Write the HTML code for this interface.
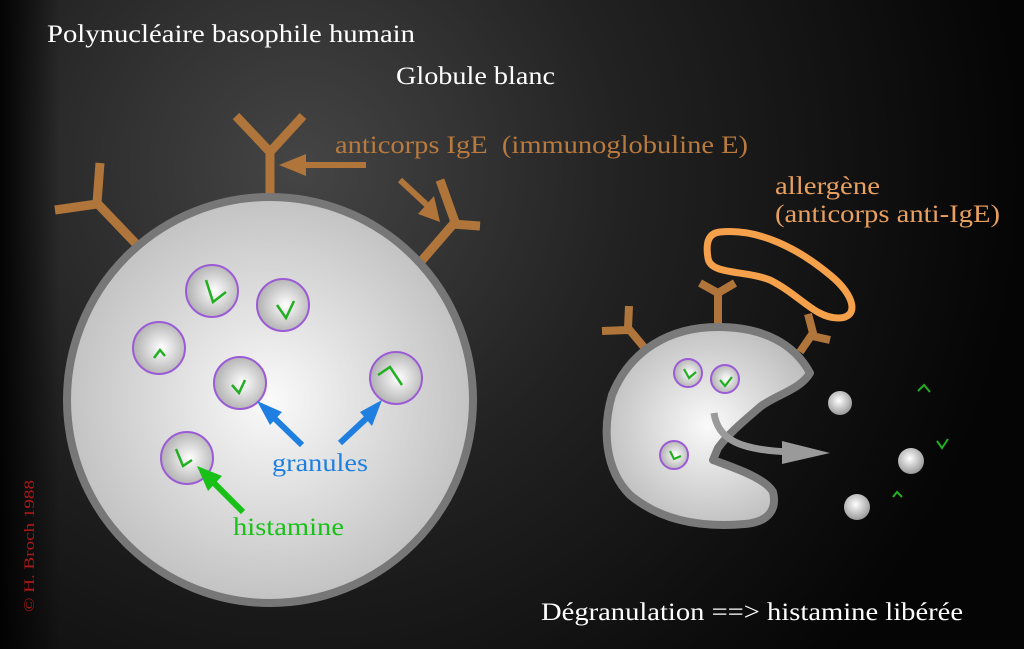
<!DOCTYPE html>
<html><head><meta charset="utf-8"><style>
html,body{margin:0;padding:0;background:#000;}
svg{display:block}
text{font-family:"Liberation Serif",serif;}
</style></head><body>
<svg width="1024" height="649" viewBox="0 0 1024 649" xmlns="http://www.w3.org/2000/svg">
<defs>
<radialGradient id="bg" cx="300" cy="170" r="720" gradientUnits="userSpaceOnUse">
<stop offset="0" stop-color="#454545"/><stop offset="0.45" stop-color="#222"/><stop offset="1" stop-color="#050505"/>
</radialGradient>
<linearGradient id="lf" x1="0" x2="1" y1="0" y2="0"><stop offset="0" stop-color="#000" stop-opacity="0.9"/><stop offset="1" stop-color="#000" stop-opacity="0"/></linearGradient>
<radialGradient id="cell" cx="0.5" cy="0.5" r="0.55"><stop offset="0" stop-color="#fafafa"/><stop offset="1" stop-color="#bdbdbd"/></radialGradient>
<radialGradient id="gr" cx="0.55" cy="0.5" r="0.6"><stop offset="0" stop-color="#ffffff"/><stop offset="1" stop-color="#a8a8a8"/></radialGradient>
<radialGradient id="ball" cx="0.45" cy="0.4" r="0.6"><stop offset="0" stop-color="#fff"/><stop offset="1" stop-color="#999"/></radialGradient>
</defs>
<rect width="1024" height="649" fill="url(#bg)"/>
<rect width="60" height="649" fill="url(#lf)"/>

<g stroke="#b0753a" stroke-width="9" fill="none" stroke-linecap="butt">
<path d="M270,200 V150 M270,152 L236,116 M270,152 L303,116"/>
<path d="M140,248 L97,203 L100,163 M97,204 L55,210"/>
<path d="M418,265 L455,222 L440,180 M452,224 L480,226"/>
</g>
<line x1="366" y1="165" x2="300" y2="165" stroke="#b0753a" stroke-width="6"/>
<polygon points="279,165 306,154 306,176" fill="#b0753a"/>
<line x1="400" y1="180" x2="428" y2="206" stroke="#b0753a" stroke-width="6"/>
<polygon points="440,222 418,214 434,196" fill="#b0753a"/>

<circle cx="270" cy="400" r="203" fill="url(#cell)" stroke="#777" stroke-width="8"/>
<g stroke="#9b5bd6" stroke-width="2" fill="url(#gr)">
<circle cx="212" cy="291" r="26"/><circle cx="283" cy="305" r="26"/><circle cx="159" cy="348" r="26"/>
<circle cx="240" cy="383" r="26"/><circle cx="396" cy="378" r="26"/><circle cx="187" cy="458" r="26"/>
</g>
<g stroke="#22b022" stroke-width="2.5" fill="none">
<path d="M206,280 L213,302 L226,292"/><path d="M277,305 L286,318 L294,301"/><path d="M154,358 L160,350 L165,356"/>
<path d="M232,385 L239,393 L245,380"/><path d="M378,375 L390,367 L402,385"/><path d="M176,449 L183,466 L192,460"/>
</g>
<line x1="302" y1="445" x2="270" y2="414" stroke="#1f7fe0" stroke-width="6"/>
<polygon points="257,401 282,412 270,425" fill="#1f7fe0"/>
<line x1="340" y1="443" x2="370" y2="415" stroke="#1f7fe0" stroke-width="6"/>
<polygon points="382,400 360,412 372,426" fill="#1f7fe0"/>
<line x1="243" y1="512" x2="212" y2="481" stroke="#18c018" stroke-width="6"/>
<polygon points="197,466 222,476 208,491" fill="#18c018"/>

<g stroke="#b0753a" stroke-width="8" fill="none">
<path d="M648,352 L628,328 L629,306 M628,330 L602,331"/>
<path d="M718,330 V290 M718,293 L700,283 M718,293 L735,283"/>
<path d="M800,352 L813,333 L808,314 M812,336 L830,340"/>
</g>
<path d="M718,327 C765,327 795,345 810,373 C800,390 775,395 760,407 C745,420 730,432 718,448 L713,460 C735,468 765,478 773,492 C777,508 770,522 745,524 C700,528 660,520 630,495 C605,470 602,430 612,395 C630,350 670,327 718,327Z" fill="url(#cell)" stroke="#7a7a7a" stroke-width="8" stroke-linejoin="round"/>
<g stroke="#9b5bd6" stroke-width="2" fill="url(#gr)">
<circle cx="688" cy="373" r="14"/><circle cx="725" cy="379" r="14"/><circle cx="674" cy="455" r="14"/>
</g>
<g stroke="#22b022" stroke-width="2.2" fill="none">
<path d="M684,369 L689,378 L696,372"/><path d="M720,380 L725,386 L732,377"/><path d="M670,451 L674,459 L681,456"/>
</g>
<path d="M714,413 C718,440 740,450 790,452" stroke="#9a9a9a" stroke-width="7" fill="none"/>
<polygon points="782,441 830,453 782,464" fill="#9a9a9a"/>
<circle cx="840" cy="403" r="12" fill="url(#ball)"/>
<circle cx="911" cy="461" r="13" fill="url(#ball)"/>
<circle cx="857" cy="507" r="13" fill="url(#ball)"/>
<g stroke="#22b022" stroke-width="2" fill="none">
<path d="M918,391 L924,385 L930,392"/><path d="M937,441 L942,448 L948,439"/><path d="M893,497 L897,492 L902,497"/>
</g>
<path d="M720,232 C760,228 800,250 830,275 C855,295 860,318 838,318 C815,318 800,295 770,280 C745,270 710,275 708,258 C705,240 710,233 720,232Z" fill="none" stroke="#f5a04a" stroke-width="7"/>

<text x="47" y="42" font-size="25" fill="#fff" textLength="368" lengthAdjust="spacingAndGlyphs">Polynucléaire basophile humain</text>
<text x="396" y="84" font-size="25" fill="#fff" textLength="159" lengthAdjust="spacingAndGlyphs">Globule blanc</text>
<text x="335" y="153" font-size="25" fill="#b87a3e" xml:space="preserve" textLength="413" lengthAdjust="spacingAndGlyphs">anticorps IgE  (immunoglobuline E)</text>
<text x="775" y="194" font-size="25" fill="#e8a060" textLength="105" lengthAdjust="spacingAndGlyphs">allergène</text>
<text x="775" y="222" font-size="25" fill="#e8a060" textLength="225" lengthAdjust="spacingAndGlyphs">(anticorps anti-IgE)</text>
<text x="272" y="471" font-size="25" fill="#1f7fe0" textLength="96" lengthAdjust="spacingAndGlyphs">granules</text>
<text x="233" y="535" font-size="25" fill="#18c018" textLength="111" lengthAdjust="spacingAndGlyphs">histamine</text>
<text x="541" y="620" font-size="25" fill="#fff" textLength="422" lengthAdjust="spacingAndGlyphs">Dégranulation ==&gt; histamine libérée</text>
<text transform="translate(34,612) rotate(-90)" font-size="15" fill="#b01818" textLength="132" lengthAdjust="spacingAndGlyphs">© H. Broch 1988</text>
</svg>
</body></html>
